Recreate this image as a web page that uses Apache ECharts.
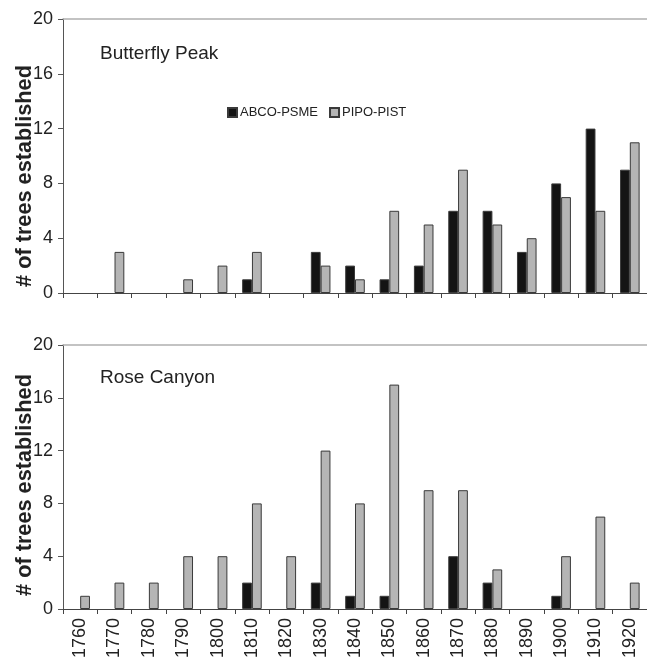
<!DOCTYPE html>
<html>
<head>
<meta charset="utf-8">
<script src="https://cdn.jsdelivr.net/npm/echarts@6/dist/echarts.min.js"></script>
<style>html,body{margin:0;padding:0;background:#fff}#c{width:647px;height:660px}</style>
</head>
<body>
<div id="c"></div>
<script>
var decades = ['1760','1770','1780','1790','1800','1810','1820','1830','1840','1850','1860','1870','1880','1890','1900','1910','1920'];
var yTicks = [0, 4, 8, 12, 16, 20];
var seriesNames = ['ABCO-PSME', 'PIPO-PIST'];
var panelTitles = ['Butterfly Peak', 'Rose Canyon'];
var yTitle = '# of trees established';
// Butterfly Peak
var bpAbco = [null, null, null, null, null, 1, null, 3, 2, 1, 2, 6, 6, 3, 8, 12, 9];
var bpPipo = [null, 3, null, 1, 2, 3, null, 2, 1, 6, 5, 9, 5, 4, 7, 6, 11];
// Rose Canyon
var rcAbco = [null, null, null, null, null, 2, null, 2, 1, 1, null, 4, 2, null, 1, null, null];
var rcPipo = [1, 2, 2, 4, 4, 8, 4, 12, 8, 17, 9, 9, 3, null, 4, 7, 2];

var FONT = 'Liberation Sans, Arial, sans-serif';
var BLACK = '#141414';
var GRAY = '#b5b5b5';
var EDGE = '#3a3a3a';

function xAxisBottom(grid, showLabels) {
  return {
    type: 'category', gridIndex: grid, data: decades, position: 'bottom',
    axisLine: {lineStyle: {color: '#444', width: 1}},
    axisTick: {show: true, length: 5, lineStyle: {color: '#444'}},
    axisLabel: {show: showLabels, rotate: 90, fontSize: 18, fontFamily: FONT, color: '#222', margin: 9},
    splitLine: {show: false}
  };
}
function xAxisTop(grid) {
  return {
    type: 'category', gridIndex: grid, data: decades, position: 'top',
    axisLine: {lineStyle: {color: '#b0b0b0', width: 1.5}},
    axisTick: {show: false}, axisLabel: {show: false}, splitLine: {show: false}
  };
}
function yAxis(grid, pad) {
  return {
    type: 'value', gridIndex: grid, min: 0, max: 20, interval: 4,
    name: yTitle, nameLocation: 'middle', nameGap: 27, nameMoveOverlap: false,
    nameTextStyle: {fontSize: 21.7, fontWeight: 'bold', fontFamily: FONT, color: '#222', padding: pad},
    axisLine: {show: true, lineStyle: {color: '#555', width: 1}},
    axisTick: {show: true, length: 5, lineStyle: {color: '#555'}},
    axisLabel: {fontSize: 18, fontFamily: FONT, color: '#222', margin: 10,
      formatter: function (v) { return yTicks.indexOf(v) >= 0 ? String(v) : ''; }},
    splitLine: {show: false}
  };
}
function bar(name, data, xi, yi, color) {
  return {
    name: name, type: 'bar', data: data, xAxisIndex: xi, yAxisIndex: yi,
    barGap: '0%', barCategoryGap: '43%',
    itemStyle: {color: color, borderColor: EDGE, borderWidth: 1},
    emphasis: {disabled: true}, animation: false
  };
}

var chart = echarts.init(document.getElementById('c'), null, {renderer: 'canvas'});
chart.setOption({
  backgroundColor: '#fff',
  animation: false,
  title: [
    {text: panelTitles[0], left: 100, top: 44, padding: 0, textStyle: {fontSize: 19, fontWeight: 'normal', fontFamily: FONT, color: '#222'}},
    {text: panelTitles[1], left: 100, top: 368, padding: 0, textStyle: {fontSize: 19, fontWeight: 'normal', fontFamily: FONT, color: '#222'}}
  ],
  legend: {
    left: 222, top: 101, itemWidth: 9, itemHeight: 9, itemGap: 11,
    icon: 'rect',
    data: seriesNames,
    textStyle: {fontSize: 13, fontFamily: FONT, color: '#222', padding: [0, 0, 0, -2]},
    selectedMode: false
  },
  grid: [
    {left: 63, top: 19, width: 584, height: 274, outerBoundsMode: 'none', containLabel: false},
    {left: 63, top: 345, width: 584, height: 264, outerBoundsMode: 'none', containLabel: false}
  ],
  xAxis: [xAxisBottom(0, false), xAxisTop(0), xAxisBottom(1, true), xAxisTop(1)],
  yAxis: [yAxis(0, [0, 40, 0, 0]), yAxis(1, [0, 16, 0, 0])],
  series: [
    bar(seriesNames[0], bpAbco, 0, 0, BLACK),
    bar(seriesNames[1], bpPipo, 0, 0, GRAY),
    bar(seriesNames[0], rcAbco, 2, 1, BLACK),
    bar(seriesNames[1], rcPipo, 2, 1, GRAY)
  ]
});
</script>
</body>
</html>
